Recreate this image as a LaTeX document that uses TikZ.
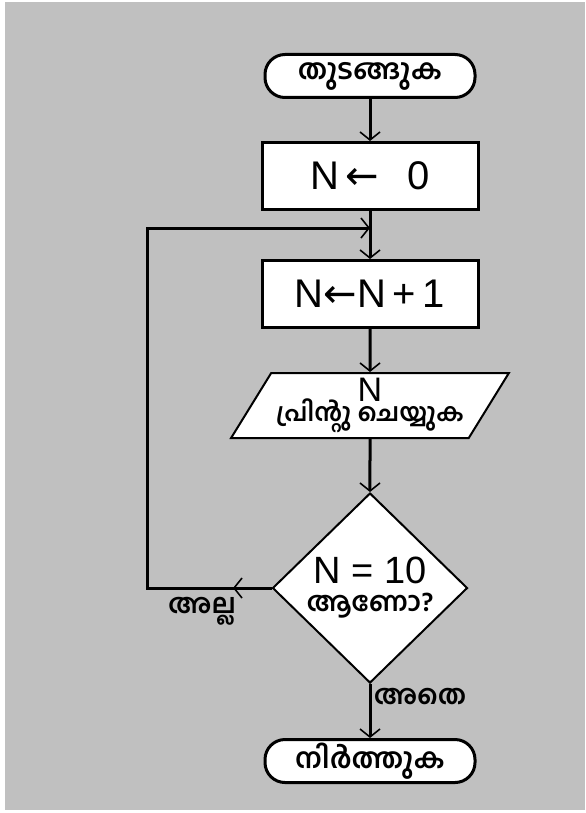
\documentclass[tikz,border=0pt]{standalone}
\usepackage{fontspec}
\setmainfont{Liberation Sans}
\newfontfamily\malfont[Script=Malayalam]{Hind Kochi}
\newfontfamily\symfont{DejaVu Sans}
\usetikzlibrary{positioning,shapes.geometric,arrows.meta}
\definecolor{bggray}{HTML}{C0C0C0}

\begin{document}
\begin{tikzpicture}[
	x=0.5pt, y=-0.5pt,
	every node/.style={inner sep=0pt},
	line/.style={line width=1.5pt},
	term/.style={draw, line width=1.5pt, fill=white, rounded corners=10pt, minimum width=105pt, minimum height=21.5pt, font=\malfont\bfseries\fontsize{14}{16}\selectfont},
	box/.style={draw, line width=1.5pt, fill=white, minimum width=108pt, minimum height=33.5pt, font=\fontsize{20}{22}\selectfont},
	io/.style={draw, line width=1pt, fill=white, trapezium, trapezium left angle=55, trapezium right angle=125, trapezium stretches=true, minimum width=139pt, minimum height=32.5pt, align=center},
	dec/.style={draw, line width=1pt, fill=white, diamond, minimum width=97.5pt, minimum height=95pt, inner sep=-4pt, align=center},
	lbl/.style={font=\malfont\bfseries\fontsize{13.5}{14}\selectfont},
	>={Straight Barb[length=4pt,width=10pt,line width=0.8pt]}
]
	\useasboundingbox (0,0) rectangle (585,813);
	\fill[white] (0,0) rectangle (585,813);
	\fill[bggray] (5,2) rectangle (585,810);

	\node[term] (start) at (370,76) {തുടങ്ങുക};
	\node[box, below=21pt of start] (init) {N\,{\symfont ←}\hspace{14pt}0};
	\node[box, below=24pt of init] (incr) {N{\symfont ←}N\,+\,1};
	\node[io, below=21.5pt of incr] (print) {{\fontsize{17}{14}\selectfont N}\\[-2pt]{\malfont\bfseries\fontsize{12.5}{14}\selectfont പ്രിന്റു ചെയ്യുക}};
	\node[dec, below=26.5pt of print] (check) {{\fontsize{19}{20}\selectfont N = 10}\\[2pt]{\malfont\bfseries\fontsize{13.5}{14}\selectfont ആണോ?}};
	\node[term, below=27pt of check] (stop) {നിർത്തുക};

	\node[lbl] (nolbl) at (202,611) {അല്ല};
	\node[lbl] (yeslbl) at (420,697) {അതെ};

	% loop back
	\coordinate (join) at (370,228);
	\coordinate (noarr) at (233,0 |- check.west);

	\draw[line,->] (start) -- (init);
	\draw[line,->] (init) -- (incr);
	\draw[line,->] (incr) -- (print);
	\draw[line,->] (print) -- (check);
	\draw[line,->] (check) -- (stop);
	\draw[line,->] (check.west) -- (noarr);
	\draw[line,->] (check.west) -- (147,0 |- check.west) |- (join);
\end{tikzpicture}
\end{document}
